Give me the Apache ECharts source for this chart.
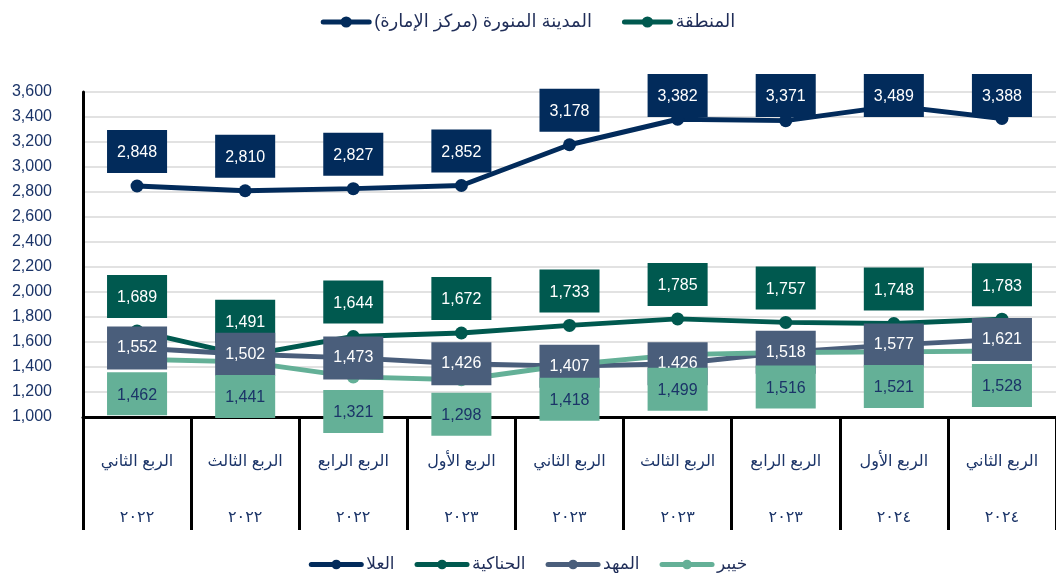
<!DOCTYPE html>
<html>
<head>
<meta charset="utf-8">
<script src="https://cdn.jsdelivr.net/npm/echarts@6/dist/echarts.min.js"></script>
<style>
  html, body { margin: 0; padding: 0; background: #fff; }
  #chart { width: 1056px; height: 573px; }
</style>
</head>
<body>
<div id="chart"></div>
<script>
// الفئات: الربع والسنة
const quarters = ['الربع الثاني', 'الربع الثالث', 'الربع الرابع', 'الربع الأول', 'الربع الثاني', 'الربع الثالث', 'الربع الرابع', 'الربع الأول', 'الربع الثاني']
const years = ['٢٠٢٢', '٢٠٢٢', '٢٠٢٢', '٢٠٢٣', '٢٠٢٣', '٢٠٢٣', '٢٠٢٣', '٢٠٢٤', '٢٠٢٤']

// قيم السلاسل
const ulaValues = [2848, 2810, 2827, 2852, 3178, 3382, 3371, 3489, 3388]
const hanakiyahValues = [1689, 1491, 1644, 1672, 1733, 1785, 1757, 1748, 1783]
const mahdValues = [1552, 1502, 1473, 1426, 1407, 1426, 1518, 1577, 1621]
const khaybarValues = [1462, 1441, 1321, 1298, 1418, 1499, 1516, 1521, 1528]

const topLegendNames = ['المدينة المنورة (مركز الإمارة)', 'المنطقة']
const bottomLegendNames = ['العلا', 'الحناكية', 'المهد', 'خيبر']

const navy = '#022b5b'
const teal = '#00594f'
const slate = '#4a5e7b'
const green = '#64b097'
const textNavy = '#1b3468'
const font = "'Liberation Sans', 'DejaVu Sans', sans-serif"

const categories = quarters.map((q, i) => q + '\n' + years[i])

const fmt = (v) => v.toLocaleString('en-US')

// خط السلسلة بدون قيم
const lineSeries = (name, data, color) => ({
  name: name,
  type: 'line',
  data: data,
  z: 2,
  symbol: 'circle',
  symbolSize: 13,
  showSymbol: true,
  itemStyle: { color: color },
  lineStyle: { color: color, width: 5 },
  emphasis: { disabled: true },
})

// صناديق القيم فوق كل الخطوط
const labelSeries = (data, bg, color, position, distance, z, offsetY) => ({
  name: 'label-' + z,
  type: 'scatter',
  data: data,
  z: z,
  symbolSize: 0,
  silent: true,
  itemStyle: { opacity: 1, color: bg },
  label: {
    show: true,
    position: position,
    distance: distance,
    offset: [0, offsetY],
    formatter: (p) => fmt(p.value),
    backgroundColor: bg,
    color: color,
    fontFamily: font,
    fontSize: 16,
    padding: [15, 10, 12, 10],
  },
  labelLayout: function (p) {
    // لا تتجاوز الصناديق الحافة العليا
    const over = 74 - p.labelRect.y
    return over > 0 ? { dy: over } : {}
  },
  emphasis: { disabled: true },
})

const chart = echarts.init(document.getElementById('chart'))

const option = {
  animation: false,
  textStyle: { fontFamily: font },
  legend: [
    {
      data: topLegendNames,
      top: 8,
      left: 'center',
      itemWidth: 46,
      itemHeight: 14,
      itemGap: 30,
      lineStyle: { width: 5, cap: 'round' },
      textStyle: { color: '#1f2d58', fontSize: 18, fontFamily: font },
    },
    {
      data: bottomLegendNames,
      top: 551,
      left: 'center',
      itemWidth: 50,
      itemHeight: 12,
      itemGap: 20,
      lineStyle: { width: 5, cap: 'round' },
      textStyle: { color: '#1f2d58', fontSize: 17, fontFamily: font },
    },
  ],
  grid: {
    left: 83,
    right: 0,
    top: 92,
    bottom: 156,
    containLabel: false,
  },
  xAxis: {
    type: 'category',
    data: categories,
    boundaryGap: true,
    axisLine: { show: true, lineStyle: { color: '#000', width: 3 } },
    axisTick: { show: true, interval: 0, length: 113, lineStyle: { color: '#000', width: 3 } },
    axisLabel: {
      interval: 0,
      margin: 17,
      color: textNavy,
      fontSize: 16,
      lineHeight: 56,
      fontFamily: font,
    },
  },
  yAxis: {
    type: 'value',
    min: 1000,
    max: 3600,
    interval: 200,
    axisLine: { show: true, lineStyle: { color: '#000', width: 3 } },
    axisTick: { show: false },
    axisLabel: {
      margin: 31,
      color: textNavy,
      fontSize: 16,
      fontFamily: font,
      formatter: (v) => fmt(v),
    },
    splitLine: { lineStyle: { color: '#d9d9d9', width: 1.5 } },
  },
  series: [
    // سلاسل للمفتاح العلوي فقط
    { name: topLegendNames[0], type: 'line', data: [], symbol: 'circle', itemStyle: { color: navy }, lineStyle: { color: navy, width: 5 } },
    { name: topLegendNames[1], type: 'line', data: [], symbol: 'circle', itemStyle: { color: teal }, lineStyle: { color: teal, width: 5 } },
    lineSeries(bottomLegendNames[0], ulaValues, navy),
    lineSeries(bottomLegendNames[1], hanakiyahValues, teal),
    lineSeries(bottomLegendNames[2], mahdValues, slate),
    lineSeries(bottomLegendNames[3], khaybarValues, green),
    labelSeries(ulaValues, navy, '#fff', 'top', 13, 10, 0),
    labelSeries(hanakiyahValues, teal, '#fff', 'top', 13, 11, 0),
    labelSeries(mahdValues, slate, '#fff', 'inside', 0, 12, -3),
    labelSeries(khaybarValues, green, textNavy, 'bottom', 13, 13, 0),
  ],
}

chart.setOption(option)
</script>
</body>
</html>
